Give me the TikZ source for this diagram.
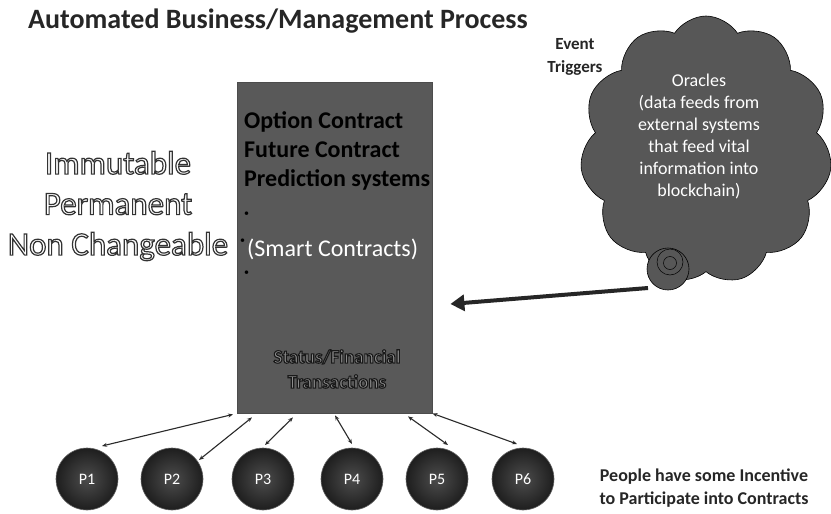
\documentclass[tikz,border=0pt]{standalone}
\usepackage{fontspec}
\setmainfont{Carlito}
\usetikzlibrary{shapes.symbols,arrows.meta,calc}
\newcommand\outl[4]{{\color{#1}\special{pdf:literal direct 2 Tr #3 w #2 G}#4\special{pdf:literal direct 0 Tr}}}
\definecolor{boxgray}{HTML}{595959}
\definecolor{cloudgray}{HTML}{575757}
\definecolor{pdark}{HTML}{1E1E1E}
\definecolor{arrgray}{HTML}{2A2A2A}
\tikzset{
  person/.style={circle, minimum size=62pt, inner sep=0pt, draw=black!60, line width=0.6pt,
    inner color=black!70, outer color=pdark, text=white, font=\fontsize{16}{16}\selectfont},
  link/.style={{Stealth[length=5pt,width=4pt,open]}-{Stealth[length=5pt,width=4pt,open]}, draw=arrgray, line width=1.1pt},
  boldtxt/.style={font=\bfseries\fontsize{15}{22}\selectfont, align=center, text=black!85},
  optline/.style={anchor=base west, inner sep=0pt, font=\bfseries\fontsize{24}{24}\selectfont, text=black},
  bul/.style={anchor=base west, inner sep=0pt, font=\fontsize{10}{10}\selectfont, text=black},
}
\begin{document}
\begin{tikzpicture}[x=1pt,y=-1pt]
\useasboundingbox (0,0) rectangle (831,514);
\fill[white] (0,0) rectangle (831,514);
% title
\node[anchor=base west, inner sep=0pt, font=\bfseries\fontsize{28}{28}\selectfont, text=black!85] (title) at (28,28) {Automated Business/Management Process};
% immutable text
\node[align=center, inner sep=0pt, font=\fontsize{33}{40.5}\selectfont] (immut) at (118,206)
  {\outl{white}{0.2}{1.2}{Immutable}\\\outl{white}{0.2}{1.2}{Permanent}\\\outl{white}{0.2}{1.2}{Non Changeable}};
% main box
\node[draw=black!70, fill=boxgray, minimum width=195pt, minimum height=331pt, inner sep=0pt, anchor=north west] (box) at (237,82) {};
\node[optline] (o1) at (244,128) {Option Contract};
\node[optline] (o2) at (244,157) {Future Contract};
\node[optline] (o3) at (244,186) {Prediction systems};
\node[bul] (b1) at (244,216) {\textbullet};
\node[bul] (b2) at (240,243) {\textbullet};
\node[bul] (b3) at (244,275) {\textbullet};
\node[anchor=base west, inner sep=0pt, font=\fontsize{24}{24}\selectfont, text=white] (smart) at (247,256) {(Smart Contracts)};
\node[align=center, inner sep=0pt, font=\bfseries\fontsize{19}{25}\selectfont] (status) at (337,369)
  {\outl{black!45}{0.1}{1.1}{Status/Financial}\\\outl{black!45}{0.1}{1.1}{Transactions}};
% cloud
\node[cloud, cloud puffs=11, cloud puff arc=115, cloud ignores aspect, draw=black, line width=0.6pt, fill=cloudgray,
  minimum width=252pt, minimum height=268pt, inner sep=0pt] (cloud) at (706,150) {};
\node[align=center, text=white, font=\fontsize{18}{22}\selectfont, inner sep=0pt] (oracle) at (699,136)
  {Oracles\\(data feeds from\\external systems\\that feed vital\\information into\\blockchain)};
\node[circle, draw=black, line width=0.6pt, fill=cloudgray, minimum size=42pt, inner sep=0pt] (bub) at (668,269) {};
\node[circle, draw=black, line width=0.5pt, minimum size=26pt, inner sep=0pt] (bub2) at (670,262) {};
\node[circle, draw=black, line width=0.5pt, minimum size=13pt, inner sep=0pt] (bub3) at (670,263) {};
\node[boldtxt, font=\bfseries\fontsize{17}{23}\selectfont] (event) at (575,57) {Event\\Triggers};
% trigger arrow
\coordinate (tstart) at (648,288);
\draw[line width=4pt, draw=black!85, -{Triangle[length=14pt,width=16pt]}] (tstart) -- ($(box.east |- 0,304)+(18,0)$);
% people
\node[person] (p1) at (87,479) {P1};
\node[person] (p2) at (172,479) {P2};
\node[person] (p3) at (263,479) {P3};
\node[person] (p4) at (352,479) {P4};
\node[person] (p5) at (437,479) {P5};
\node[person] (p6) at (523,479) {P6};
\draw[link] ($(box.south west)+(-4,1)$) -- ($(p1.center)+(15,-33)$);
\draw[link] ($(box.south west)+(15,4)$) -- ($(p2.center)+(27,-19)$);
\draw[link] ($(box.south west)+(56,4)$) -- ($(p3.center)+(2,-34)$);
\draw[link] ($(box.south west)+(98,2)$) -- ($(p4.center)+(0,-35)$);
\draw[link] ($(box.south west)+(171,3)$) -- ($(p5.center)+(11,-34)$);
\draw[link] (box.south east) -- ($(p6.center)+(-6,-35)$);
\node[boldtxt, font=\bfseries\fontsize{18}{23}\selectfont] (people) at (704,488) {People have some Incentive\\to Participate into Contracts};
\end{tikzpicture}
\end{document}
